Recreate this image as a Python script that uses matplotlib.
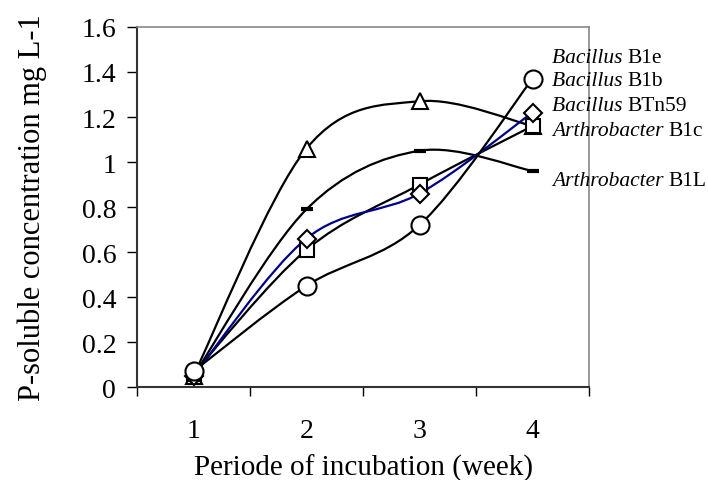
import numpy as np
import matplotlib.pyplot as plt
from matplotlib.path import Path
from matplotlib.patches import PathPatch

plt.rcParams['font.family'] = ['Liberation Serif', 'DejaVu Serif']

weeks = [1, 2, 3, 4]
b1e = [0.05, 1.06, 1.27, 1.16]      # triangle
b1l = [0.05, 0.79, 1.05, 0.96]      # dash
b1c = [0.06, 0.61, 0.90, 1.16]      # square
btn59 = [0.05, 0.66, 0.86, 1.22]    # diamond, blue line
b1b = [0.07, 0.45, 0.72, 1.37]      # circle

labels = ["Bacillus B1e", "Bacillus B1b", "Bacillus BTn59", "Arthrobacter B1c", "Arthrobacter B1L"]
label_y = [1.465, 1.36, 1.25, 1.14, 0.92]


def smooth_path(x, y):
    # Excel-style smoothed line: cubic Bezier through the points
    pts = np.column_stack([x, y]).astype(float)
    ext = np.vstack([pts[0], pts, pts[-1]])
    verts = [pts[0]]
    codes = [Path.MOVETO]
    for i in range(len(pts) - 1):
        p0, p1, p2, p3 = ext[i], ext[i + 1], ext[i + 2], ext[i + 3]
        verts += [p1 + (p2 - p0) / 6, p2 - (p3 - p1) / 6, p2]
        codes += [Path.CURVE4] * 3
    return Path(verts, codes)


fig = plt.figure(figsize=(7.08, 4.81), dpi=100)
ax = fig.add_axes([0.1935, 0.1933, 0.6385, 0.7485])

series = [
    (b1e, '^', 'black', 11),
    (b1l, '_', 'black', 9),
    (b1c, 's', 'black', 10),
    (btn59, 'D', '#00008B', 9),
    (b1b, 'o', 'black', 13),
]
for vals, mk, col, ms in series:
    ax.add_patch(PathPatch(smooth_path(weeks, vals), facecolor='none',
                           edgecolor=col, lw=1.6, zorder=2))
for vals, mk, col, ms in series:
    if mk == '_':
        ax.plot(weeks, vals, ls='none', marker=mk, ms=ms, mew=3,
                color='black', zorder=3)
    else:
        ax.plot(weeks, vals, ls='none', marker=mk, ms=ms, mfc='white',
                mec='black', mew=1.5, zorder=3)

ax.set_xlim(0.5, 4.5)
ax.set_ylim(0, 1.6)
ax.set_yticks(np.arange(0, 1.61, 0.2))
ax.set_yticklabels(['0', '0.2', '0.4', '0.6', '0.8', '1', '1.2', '1.4', '1.6'])
ax.set_xticks([0.5, 1.5, 2.5, 3.5, 4.5])
ax.set_xticklabels([])
ax.set_xticks(weeks, minor=True)
ax.set_xticklabels([str(w) for w in weeks], minor=True)
ax.tick_params(axis='x', which='minor', length=0, pad=22, labelsize=20)
ax.tick_params(axis='x', which='major', length=6.5, width=1, direction='out')
ax.tick_params(axis='y', length=7, width=1, direction='out', labelsize=20, pad=8)

for s in ['top', 'right']:
    ax.spines[s].set_color('#888888')
    ax.spines[s].set_linewidth(1.2)
for s in ['left', 'bottom']:
    ax.spines[s].set_color('#333333')
    ax.spines[s].set_linewidth(1.5)

ax.set_xlabel("Periode of incubation (week)", fontsize=21, labelpad=8)
ax.set_ylabel("P-soluble concentration mg L-1", fontsize=22, labelpad=25)

fig.canvas.draw()
for txt, ly in zip(labels, label_y):
    genus, strain = txt.split(' ')
    t = ax.text(4.17, ly, genus + ' ', fontsize=15.5, style='italic',
                va='center', ha='left', clip_on=False)
    ax.annotate(strain, xycoords=t, xy=(1, 0.5), va='center', ha='left',
                fontsize=15.5, annotation_clip=False)

fig.savefig('out.png', dpi=100)
